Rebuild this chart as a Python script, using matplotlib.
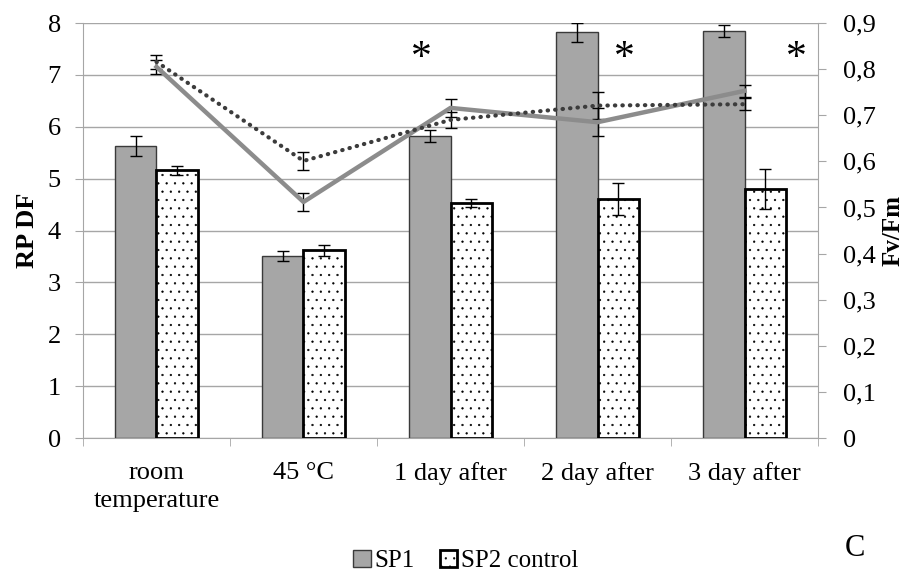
import numpy as np
import matplotlib
matplotlib.use('Agg')
import matplotlib.pyplot as plt
from matplotlib.ticker import FuncFormatter, FixedLocator

plt.rcParams['font.family'] = ['Liberation Serif', 'DejaVu Serif']
plt.rcParams['hatch.linewidth'] = 0.4
plt.rcParams['hatch.color'] = '#444444'

# data
categories = ['room\ntemperature', '45 \u00b0C', '1 day after', '2 day after', '3 day after']
sp1_rpdf = [5.63, 3.51, 5.82, 7.82, 7.85]
sp1_rpdf_err = [0.20, 0.10, 0.11, 0.18, 0.11]
sp2_rpdf = [5.16, 3.62, 4.53, 4.60, 4.80]
sp2_rpdf_err = [0.09, 0.11, 0.08, 0.31, 0.39]
sp1_fvfm = [0.805, 0.512, 0.716, 0.685, 0.753]
sp1_fvfm_err = [0.015, 0.020, 0.019, 0.030, 0.013]
sp2_fvfm = [0.816, 0.601, 0.690, 0.721, 0.724]
sp2_fvfm_err = [0.015, 0.019, 0.018, 0.030, 0.013]
star_x = [1.80, 3.18, 4.35]
star_y = [7.32, 7.32, 7.32]

grid_col = '#a6a6a6'
fs = 19
x = np.arange(len(categories))
w = 0.285

fig = plt.figure(figsize=(9.08, 5.77), dpi=100)
ax = fig.add_axes([0.0914, 0.2409, 0.8095, 0.7191])

ax.bar(x - w / 2, sp1_rpdf, w, color='#a6a6a6', edgecolor='#3a3a3a', linewidth=1.0,
       yerr=sp1_rpdf_err, capsize=4.5, error_kw=dict(elinewidth=1.0, capthick=1.0, ecolor='black'),
       label='SP1', zorder=3)
ax.bar(x + w / 2, sp2_rpdf, w, color='white', edgecolor='black', linewidth=2.0, hatch='..',
       yerr=sp2_rpdf_err, capsize=4.5, error_kw=dict(elinewidth=1.0, capthick=1.0, ecolor='black'),
       label='SP2 control', zorder=3)

for sx, sy in zip(star_x, star_y):
    ax.text(sx, sy, '*', fontsize=30, ha='center', va='center', zorder=5)

ax.set_xlim(-0.5, len(categories) - 0.5)
ax.set_ylim(0, 8)
ax.set_yticks(range(0, 9))
ax.yaxis.grid(True, color=grid_col, linewidth=1.0, zorder=0)
ax.set_axisbelow(True)
ax.set_xticks(x)
ax.set_xticklabels(categories, fontsize=fs, linespacing=1.35)
ax.xaxis.set_minor_locator(FixedLocator(np.arange(-0.5, len(categories), 1.0)))
ax.tick_params(axis='x', which='major', length=0, pad=17)
ax.tick_params(axis='x', which='minor', length=6, color=grid_col, direction='out')
ax.tick_params(axis='y', labelsize=fs, length=6, color=grid_col, direction='out', pad=10)
for s in ['top', 'right']:
    ax.spines[s].set_visible(False)
for s in ['left', 'bottom']:
    ax.spines[s].set_color(grid_col)
ax.set_ylabel('RP DF', fontsize=fs, fontweight='bold', labelpad=6)

ax2 = ax.twinx()
ax2.errorbar(x, sp1_fvfm, yerr=sp1_fvfm_err, color='#8c8c8c', linewidth=3.2,
             ecolor='black', elinewidth=1.0, capsize=4.5, capthick=1.0, zorder=4)
ax2.errorbar(x, sp2_fvfm, yerr=sp2_fvfm_err, color='#3c3c3c', linewidth=3.0, linestyle=(0, (0.1, 1.7)),
             dash_capstyle='round', ecolor='black', elinewidth=1.0, capsize=4.5, capthick=1.0, zorder=4)
ax2.set_ylim(0, 0.9)
ax2.set_yticks(np.arange(0, 0.91, 0.1))
ax2.yaxis.set_major_formatter(FuncFormatter(lambda v, p: '0' if abs(v) < 1e-9 else ('%.1f' % v).replace('.', ',')))
ax2.tick_params(axis='y', labelsize=fs, length=6, color=grid_col, direction='out', pad=12)
for s in ['top', 'left', 'bottom']:
    ax2.spines[s].set_visible(False)
ax2.spines['right'].set_color(grid_col)
ax2.set_ylabel('Fv/Fm', fontsize=18, fontweight='bold', labelpad=4)

ax.legend(loc='center', bbox_to_anchor=(0.513, 0.028), bbox_transform=fig.transFigure,
          frameon=False, ncol=2, fontsize=18, handlelength=0.7, handleheight=0.7,
          handletextpad=0.15, columnspacing=1.0, borderaxespad=0, borderpad=0)

fig.text(0.942, 0.05, 'C', fontsize=22, ha='center', va='center')

fig.savefig('out.png', dpi=100)
